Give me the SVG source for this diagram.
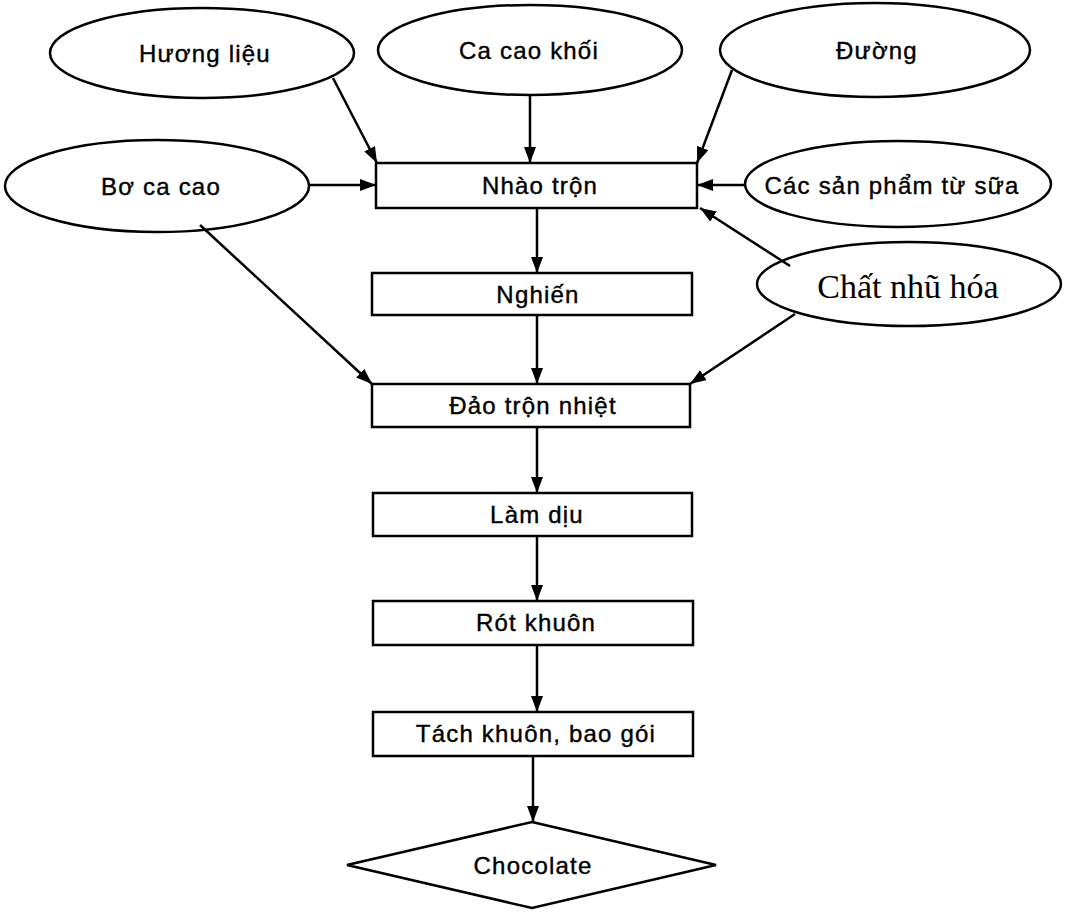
<svg xmlns="http://www.w3.org/2000/svg" width="1070" height="912" viewBox="0 0 1070 912">
<defs>
<marker id="ah" viewBox="0 0 16 12" refX="16" refY="6" markerWidth="16" markerHeight="12" markerUnits="userSpaceOnUse" orient="auto">
<path d="M0,0 L16,6 L0,12 Z" fill="#000"/>
</marker>
</defs>
<style>
.sh{fill:#fff;stroke:#000;stroke-width:2.5}
.t{font-family:"Liberation Sans",Arial,sans-serif;font-size:24px;letter-spacing:1.2px;text-anchor:middle;fill:#000;stroke:#000;stroke-width:0.4}
.tt{font-family:"Liberation Serif","Times New Roman",serif;font-size:34px;text-anchor:middle;fill:#000}
.c{stroke:#000;stroke-width:2.5;fill:none;marker-end:url(#ah)}
</style>
<rect width="1070" height="912" fill="#fff"/>
<g id="huong-lieu"><ellipse class="sh" cx="202" cy="53" rx="152" ry="45"/><text class="t" x="205" y="62">Hương liệu</text></g>
<g id="ca-cao-khoi"><ellipse class="sh" cx="530" cy="50" rx="152" ry="45"/><text class="t" x="529" y="59">Ca cao khối</text></g>
<g id="duong"><ellipse class="sh" cx="875" cy="50" rx="155" ry="47"/><text class="t" x="877" y="59">Đường</text></g>
<g id="bo-ca-cao"><ellipse class="sh" cx="157" cy="186" rx="152" ry="46"/><text class="t" x="161" y="195">Bơ ca cao</text></g>
<g id="sua"><ellipse class="sh" cx="898" cy="184" rx="153" ry="43"/><text class="t" x="892" y="194">Các sản phẩm từ sữa</text></g>
<g id="chat-nhu-hoa"><ellipse class="sh" cx="909" cy="284" rx="152" ry="42"/><text class="tt" x="908" y="298">Chất nhũ hóa</text></g>
<g id="nhao-tron"><rect class="sh" x="376" y="163" width="321" height="45"/><text class="t" x="540" y="194">Nhào trộn</text></g>
<g id="nghien"><rect class="sh" x="372" y="273" width="320" height="42"/><text class="t" x="538" y="303">Nghiến</text></g>
<g id="dao-tron-nhiet"><rect class="sh" x="372" y="384" width="318" height="43"/><text class="t" x="533" y="414">Đảo trộn nhiệt</text></g>
<g id="lam-diu"><rect class="sh" x="373" y="493" width="319" height="43"/><text class="t" x="537" y="523">Làm dịu</text></g>
<g id="rot-khuon"><rect class="sh" x="373" y="601" width="320" height="44"/><text class="t" x="536" y="631">Rót khuôn</text></g>
<g id="tach-khuon"><rect class="sh" x="373" y="712" width="320" height="44"/><text class="t" x="536" y="742">Tách khuôn, bao gói</text></g>
<g id="chocolate"><polygon class="sh" points="532,822 716,865 532,908 347,865"/><text class="t" x="533" y="874">Chocolate</text></g>
<g id="connectors">
<line class="c" x1="333" y1="78" x2="377" y2="163"/>
<line class="c" x1="530" y1="95" x2="530" y2="163"/>
<line class="c" x1="732" y1="70" x2="697" y2="163"/>
<line class="c" x1="309" y1="185" x2="376" y2="185"/>
<line class="c" x1="745" y1="185" x2="697" y2="185"/>
<line class="c" x1="790" y1="266" x2="700" y2="208"/>
<line class="c" x1="200" y1="225" x2="372" y2="384"/>
<line class="c" x1="795" y1="314" x2="690" y2="384"/>
<line class="c" x1="537" y1="208" x2="537" y2="273"/>
<line class="c" x1="537" y1="315" x2="537" y2="384"/>
<line class="c" x1="537" y1="427" x2="537" y2="493"/>
<line class="c" x1="537" y1="536" x2="537" y2="601"/>
<line class="c" x1="537" y1="645" x2="537" y2="712"/>
<line class="c" x1="533" y1="756" x2="533" y2="822"/>
</g>
</svg>
